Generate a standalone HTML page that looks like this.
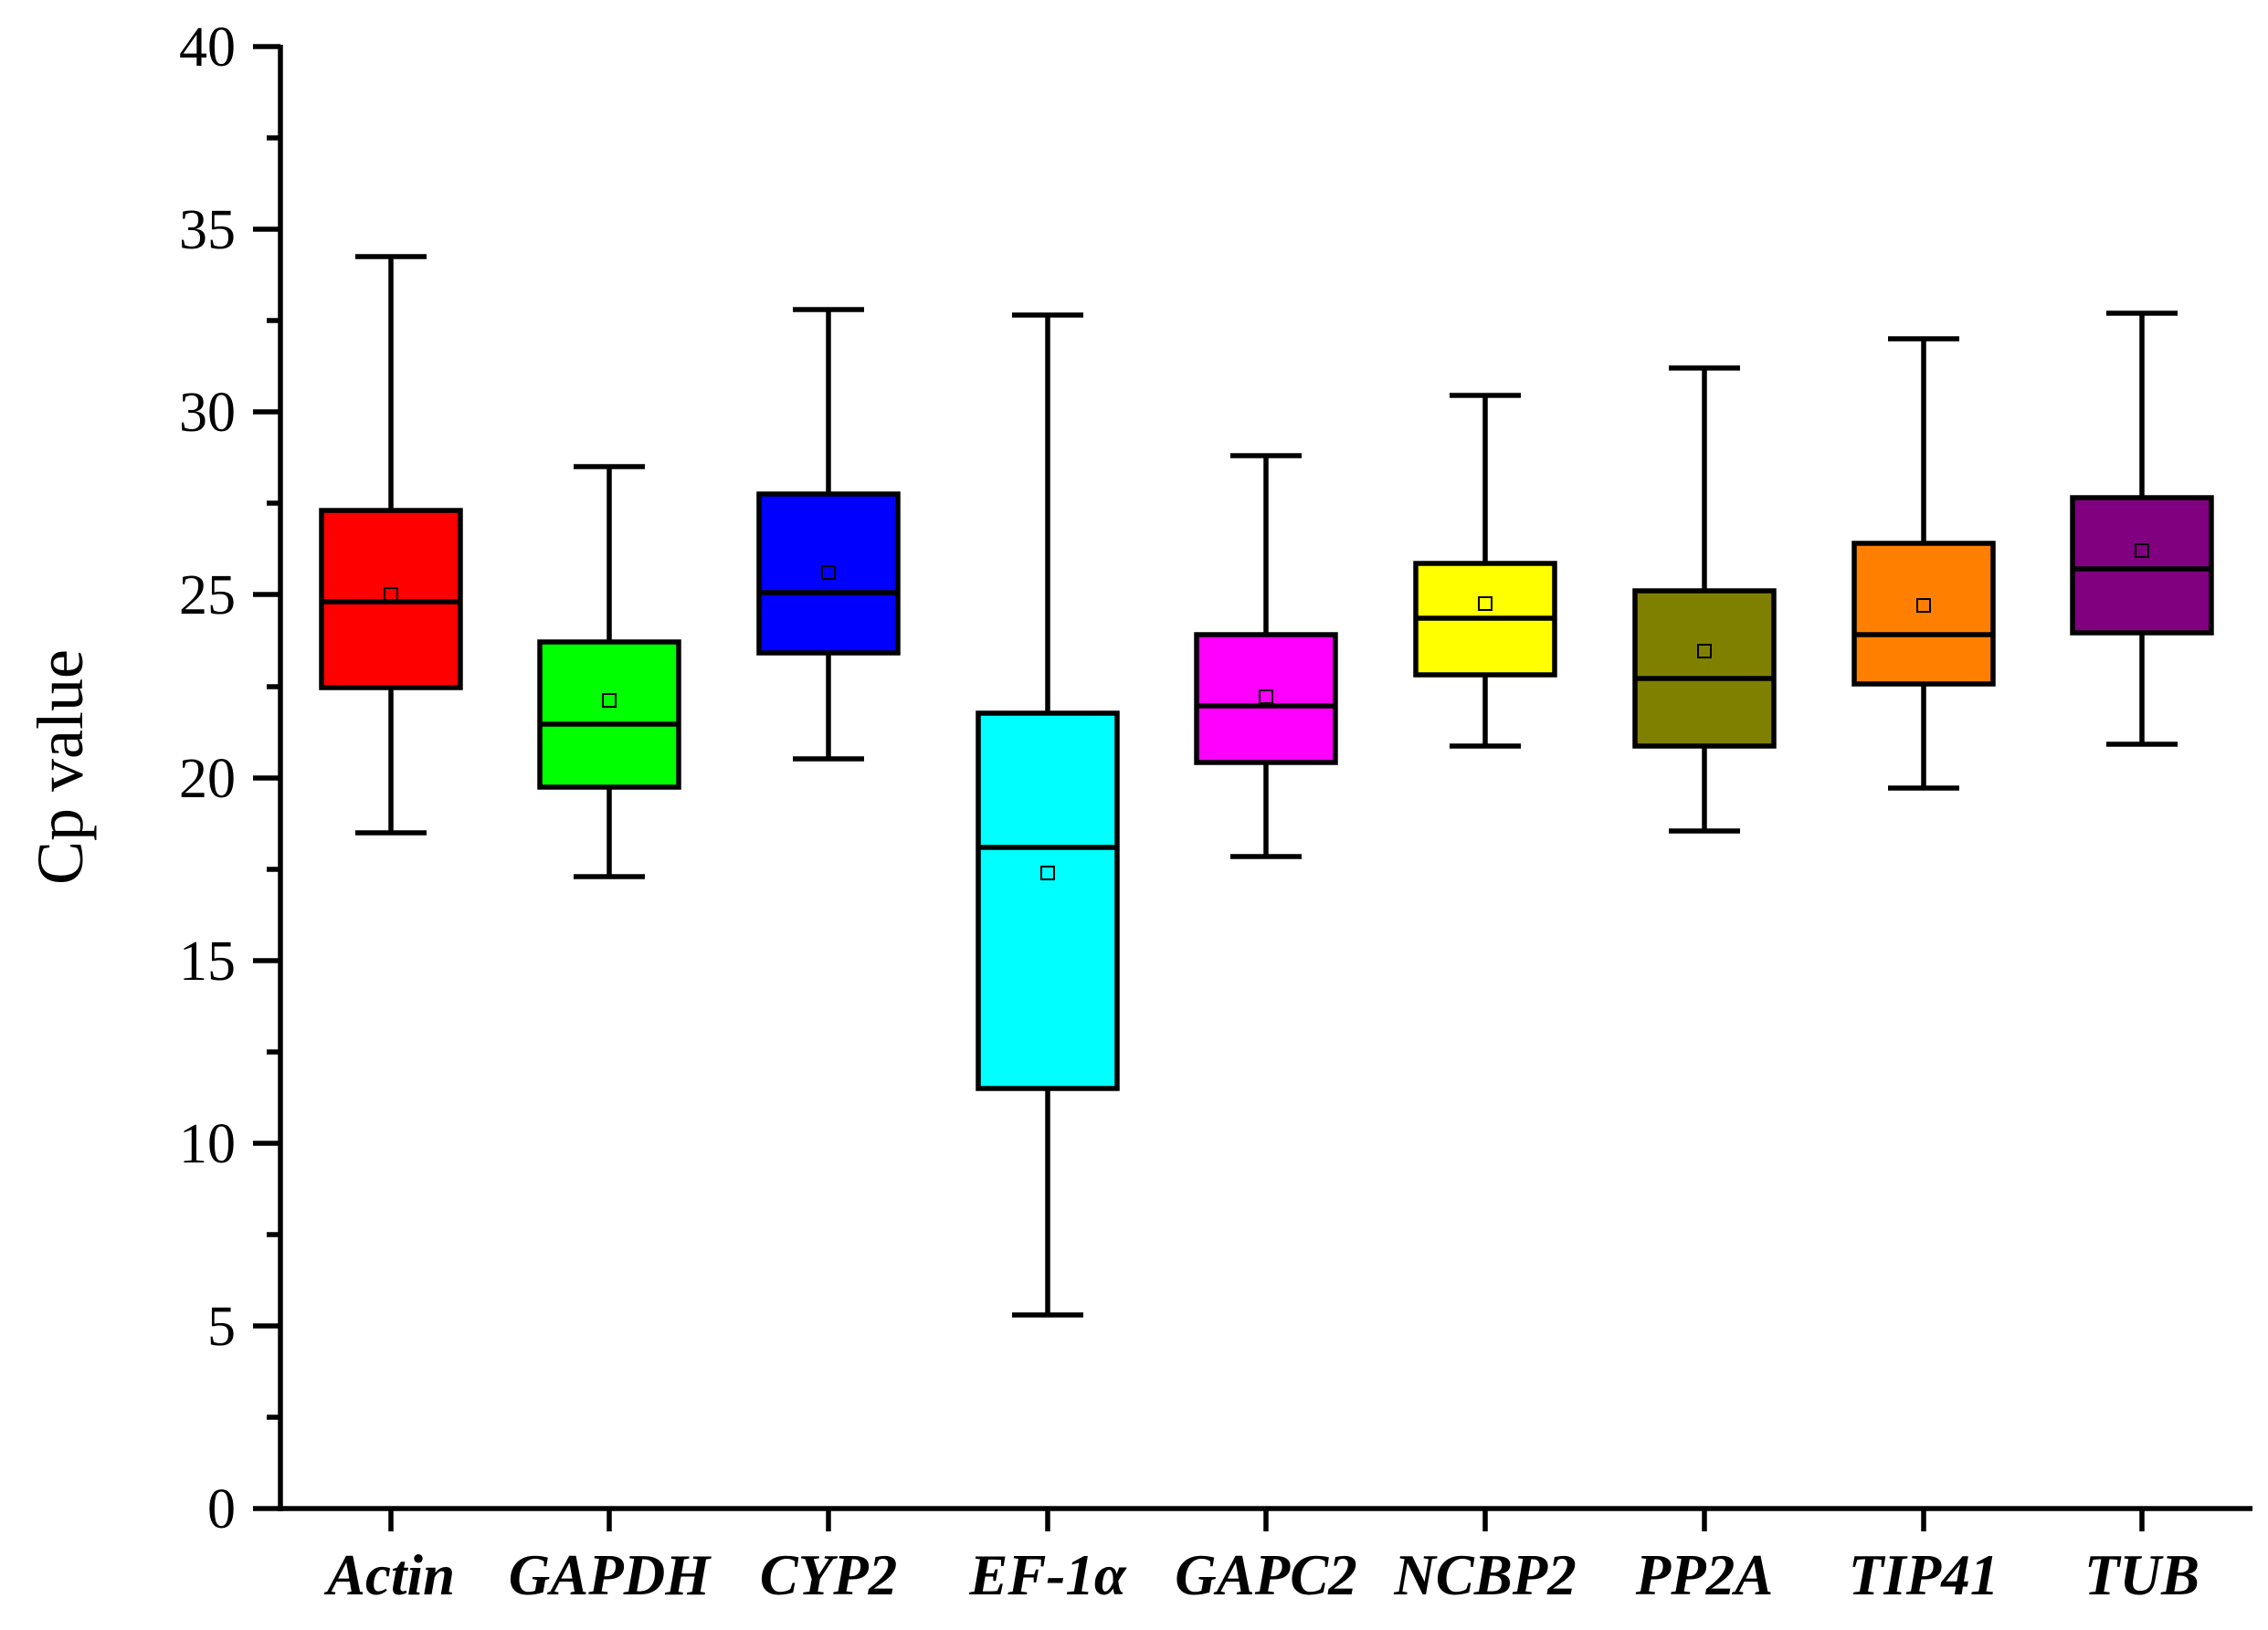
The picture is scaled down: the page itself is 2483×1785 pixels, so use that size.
<!DOCTYPE html>
<html><head><meta charset="utf-8"><style>html,body{margin:0;padding:0;background:#fff}svg{display:block}</style></head>
<body>
<svg width="2483" height="1785" viewBox="0 0 2483 1785" xmlns="http://www.w3.org/2000/svg" font-family="Liberation Serif, serif">
<rect width="2483" height="1785" fill="#fff"/>
<g stroke="#000" stroke-width="5.5" fill="none">
<line x1="307" y1="49" x2="307" y2="1655"/>
<line x1="277" y1="1652" x2="2466" y2="1652"/>
<line x1="277" y1="51" x2="307" y2="51"/>
<line x1="277" y1="251" x2="307" y2="251"/>
<line x1="277" y1="451" x2="307" y2="451"/>
<line x1="277" y1="651" x2="307" y2="651"/>
<line x1="277" y1="852" x2="307" y2="852"/>
<line x1="277" y1="1052" x2="307" y2="1052"/>
<line x1="277" y1="1252" x2="307" y2="1252"/>
<line x1="277" y1="1452" x2="307" y2="1452"/>
<line x1="292" y1="151" x2="307" y2="151"/>
<line x1="292" y1="351" x2="307" y2="351"/>
<line x1="292" y1="551" x2="307" y2="551"/>
<line x1="292" y1="752" x2="307" y2="752"/>
<line x1="292" y1="952" x2="307" y2="952"/>
<line x1="292" y1="1152" x2="307" y2="1152"/>
<line x1="292" y1="1352" x2="307" y2="1352"/>
<line x1="292" y1="1552" x2="307" y2="1552"/>
<line x1="428" y1="1652" x2="428" y2="1677"/>
<line x1="667" y1="1652" x2="667" y2="1677"/>
<line x1="907" y1="1652" x2="907" y2="1677"/>
<line x1="1147" y1="1652" x2="1147" y2="1677"/>
<line x1="1386" y1="1652" x2="1386" y2="1677"/>
<line x1="1626" y1="1652" x2="1626" y2="1677"/>
<line x1="1866" y1="1652" x2="1866" y2="1677"/>
<line x1="2106" y1="1652" x2="2106" y2="1677"/>
<line x1="2345" y1="1652" x2="2345" y2="1677"/>
</g>
<g font-size="62" text-anchor="end" fill="#000">
<text x="258" y="72">40</text><text x="258" y="272">35</text><text x="258" y="472">30</text>
<text x="258" y="672">25</text><text x="258" y="873">20</text><text x="258" y="1073">15</text>
<text x="258" y="1273">10</text><text x="258" y="1473">5</text><text x="258" y="1673">0</text>
</g>
<text x="0" y="0" font-size="72" text-anchor="middle" transform="translate(90,840) rotate(-90)">Cp value</text>
<g font-size="63" font-weight="bold" font-style="italic" text-anchor="middle" fill="#000">
<text x="428" y="1746">Actin</text><text x="667" y="1746">GAPDH</text><text x="907" y="1746">CYP2</text>
<text x="1147" y="1746">EF-1α</text><text x="1386" y="1746">GAPC2</text><text x="1626" y="1746">NCBP2</text>
<text x="1866" y="1746">PP2A</text><text x="2106" y="1746">TIP41</text><text x="2345" y="1746">TUB</text>
</g>
<g stroke="#000" stroke-width="5.5">
<g><line x1="428" y1="281" x2="428" y2="912"/><line x1="389" y1="281" x2="467" y2="281"/><line x1="389" y1="912" x2="467" y2="912"/><rect x="352" y="559" width="152" height="194" fill="#ff0000"/><line x1="352" y1="659" x2="504" y2="659"/><rect x="421" y="644" width="14" height="14" fill="none" stroke-width="2"/></g>
<g><line x1="667" y1="511" x2="667" y2="960"/><line x1="628" y1="511" x2="706" y2="511"/><line x1="628" y1="960" x2="706" y2="960"/><rect x="591" y="703" width="152" height="159" fill="#00ff00"/><line x1="591" y1="793" x2="743" y2="793"/><rect x="660" y="760" width="14" height="14" fill="none" stroke-width="2"/></g>
<g><line x1="907" y1="339" x2="907" y2="831"/><line x1="868" y1="339" x2="946" y2="339"/><line x1="868" y1="831" x2="946" y2="831"/><rect x="831" y="541" width="152" height="174" fill="#0000ff"/><line x1="831" y1="649" x2="983" y2="649"/><rect x="900" y="620" width="14" height="14" fill="none" stroke-width="2"/></g>
<g><line x1="1147" y1="345" x2="1147" y2="1440"/><line x1="1108" y1="345" x2="1186" y2="345"/><line x1="1108" y1="1440" x2="1186" y2="1440"/><rect x="1071" y="781" width="152" height="411" fill="#00ffff"/><line x1="1071" y1="928" x2="1223" y2="928"/><rect x="1140" y="949" width="14" height="14" fill="none" stroke-width="2"/></g>
<g><line x1="1386" y1="499" x2="1386" y2="938"/><line x1="1347" y1="499" x2="1425" y2="499"/><line x1="1347" y1="938" x2="1425" y2="938"/><rect x="1310" y="695" width="152" height="140" fill="#ff00ff"/><line x1="1310" y1="773" x2="1462" y2="773"/><rect x="1379" y="756" width="14" height="14" fill="none" stroke-width="2"/></g>
<g><line x1="1626" y1="433" x2="1626" y2="817"/><line x1="1587" y1="433" x2="1665" y2="433"/><line x1="1587" y1="817" x2="1665" y2="817"/><rect x="1550" y="617" width="152" height="122" fill="#ffff00"/><line x1="1550" y1="677" x2="1702" y2="677"/><rect x="1619" y="654" width="14" height="14" fill="none" stroke-width="2"/></g>
<g><line x1="1866" y1="403" x2="1866" y2="910"/><line x1="1827" y1="403" x2="1905" y2="403"/><line x1="1827" y1="910" x2="1905" y2="910"/><rect x="1790" y="647" width="152" height="170" fill="#808000"/><line x1="1790" y1="743" x2="1942" y2="743"/><rect x="1859" y="706" width="14" height="14" fill="none" stroke-width="2"/></g>
<g><line x1="2106" y1="371" x2="2106" y2="863"/><line x1="2067" y1="371" x2="2145" y2="371"/><line x1="2067" y1="863" x2="2145" y2="863"/><rect x="2030" y="595" width="152" height="154" fill="#ff8000"/><line x1="2030" y1="695" x2="2182" y2="695"/><rect x="2099" y="656" width="14" height="14" fill="none" stroke-width="2"/></g>
<g><line x1="2345" y1="343" x2="2345" y2="815"/><line x1="2306" y1="343" x2="2384" y2="343"/><line x1="2306" y1="815" x2="2384" y2="815"/><rect x="2269" y="545" width="152" height="148" fill="#800080"/><line x1="2269" y1="623" x2="2421" y2="623"/><rect x="2338" y="596" width="14" height="14" fill="none" stroke-width="2"/></g>
</g>
</svg>
</body></html>
